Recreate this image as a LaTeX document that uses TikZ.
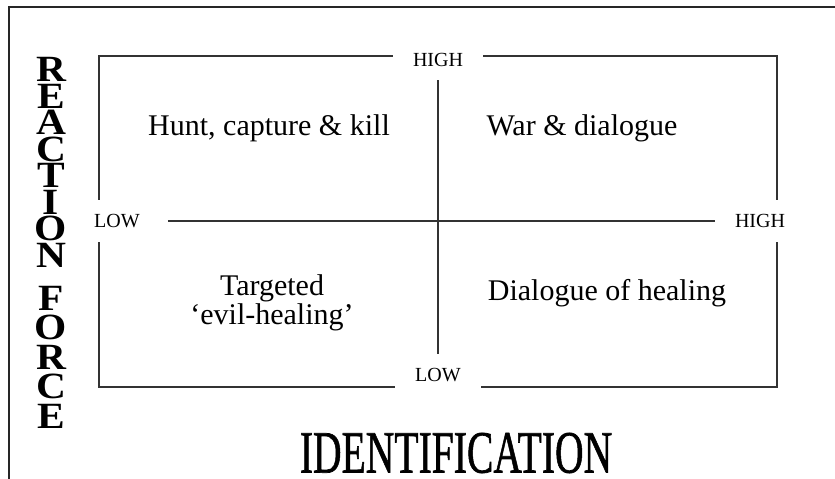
\documentclass[tikz,border=0pt]{standalone}
\usepackage{fontspec}
\setmainfont{Liberation Serif}
\newfontfamily\heavyserif[FakeBold=1.2]{Liberation Serif}
\begin{document}
\begin{tikzpicture}[x=1pt,y=-1pt,
    every node/.style = {font=\fontsize{30}{29}\selectfont, align=center},
    axislabel/.style = {fill=white, font=\fontsize{20}{22}\selectfont,
      inner xsep=20pt, inner ysep=14pt},
    boxline/.style = {line width=1.6pt, black!80},
    stackletter/.style = {font=\fontsize{37}{37}\selectfont\bfseries, inner sep=0pt}]
  \useasboundingbox (0,0) rectangle (835,479);
  \draw[line width=1.4pt, black!85] (9,479) -- (9,7) -- (835,7);
  \coordinate (tl) at (99,56);
  \coordinate (br) at (777,387);
  \draw[boxline] (tl) rectangle (br);
  \node[axislabel] (yhigh) at (438,59.5) {HIGH};
  \node[axislabel] (ylow) at (438,375) {LOW};
  \node[axislabel] (xlow) at (117,221) {LOW};
  \node[axislabel] (xhigh) at (760,221) {HIGH};
  \draw[boxline] (yhigh) -- (ylow);
  \draw[boxline, shorten <=8pt] (xlow) -- (xhigh);
  % quadrants
  \node (hunt) at (269,128) {Hunt, capture \& kill};
  \node (war) at (582,128) {War \& dialogue};
  \node (target) at (272,303) {Targeted\\`evil-healing'};
  \node (heal) at (607,293) {Dialogue of healing};
  % axis titles
  \foreach \ch [count=\i] in {R,E,A,C,T,I,O,N}
    \node[stackletter] (rfa\i) at (51,{69.5+26.5*(\i-1)}) {\scalebox{1.12}[1]{\ch}};
  \foreach \ch [count=\i] in {F,O,R,C,E}
    \node[stackletter] (rfb\i) at (51,{298+29.5*(\i-1)}) {\scalebox{1.12}[1]{\ch}};
  \node (ident) at (456,453) {\heavyserif\fontsize{60}{60}\selectfont\scalebox{0.66}[1]{IDENTIFICATION}};
\end{tikzpicture}
\end{document}
